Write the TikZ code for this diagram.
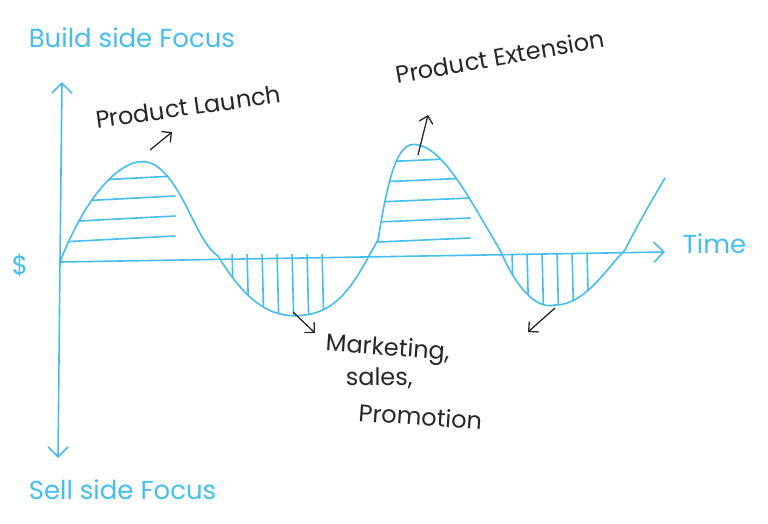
\documentclass[tikz,border=0pt]{standalone}
\usetikzlibrary{arrows.meta}
\usepackage{fontspec}
\setmainfont{Poppins}
\begin{document}
\begin{tikzpicture}[x=1pt,y=-1pt,line width=1.6pt]
\definecolor{sk}{HTML}{45BDEF}
\tikzset{cy/.style={draw=sk, line cap=round}, ct/.style={text=sk,font=\fontsize{26}{28}\selectfont,inner sep=0},
  bt/.style={text=black!85, font=\fontsize{24}{26}\selectfont, inner sep=0}}
\useasboundingbox (0,0) rectangle (768,523);
\coordinate (ytop) at (62,82); \coordinate (ybot) at (58,458);
\coordinate (o) at (60,262); \coordinate (xend) at (665,252);
\draw[cy,-{Straight Barb[length=10pt]}] (o) -- (ytop);
\draw[cy,-{Straight Barb[length=10pt]}] (o) -- (ybot);
\draw[cy,-{Straight Barb[length=10pt]}] (o) -- (xend);
\def\wave{(60,262) .. controls (90,185) and (130,150) .. (155,165) .. controls (185,185) and (195,240) .. (218,256) .. controls (245,300) and (270,320) .. (305,315) .. controls (345,310) and (360,270) .. (378,240) .. controls (390,165) and (400,140) .. (418,145) .. controls (445,150) and (470,200) .. (500,250) .. controls (515,285) and (535,310) .. (555,305) .. controls (585,305) and (605,270) .. (625,250) .. controls (640,220) and (655,195) .. (665,178)}
\draw[cy] \wave;
\begin{scope}
\clip (60,100) rectangle (665,256);
\clip \wave -- (665,340) -- (60,340) -- cycle;
\foreach \y in {182,202,222,242} \draw[cy] (60,\y) -- (175,\y-6);
\foreach \y in {162,182,202,222,242} \draw[cy] (378,\y) -- (470,\y-4);
\end{scope}
\begin{scope}
\clip (60,254) rectangle (665,340);
\clip \wave -- (665,150) -- (60,150) -- cycle;
\foreach \x in {232,247,...,335} \draw[cy] (\x,250) -- (\x+2,330);
\foreach \x in {512,527,...,600} \draw[cy] (\x,250) -- (\x+2,330);
\end{scope}
\node[ct,anchor=west] (t1) at (28,38) {Build side Focus};
\node[ct,anchor=west] (t2) at (28,490) {Sell side Focus};
\node[ct] (t3) at (20,265) {\$};
\node[ct,anchor=west] (t4) at (682,244) {Time};
\node[bt,rotate=8,anchor=west] (l1) at (95,120) {Product Launch};
\node[bt,rotate=10,anchor=west] (l2) at (395,75) {Product Extension};
\node[bt,rotate=-4,anchor=west] (m1) at (325,345) {Marketing,};
\node[bt,anchor=west] (m2) at (345,378) {sales,};
\node[bt,rotate=-4,anchor=west] (m3) at (358,412) {Promotion};
\draw[black!85,line width=1.3pt,-{Straight Barb[length=7pt]}] (150,150) -- (172,132);
\draw[black!85,line width=1.3pt,-{Straight Barb[length=7pt]}] (418,155) -- (428,115);
\draw[black!85,line width=1.3pt,-{Straight Barb[length=7pt]}] (293,312) -- (315,333);
\draw[black!85,line width=1.3pt,-{Straight Barb[length=7pt]}] (555,308) -- (528,332);
\end{tikzpicture}
\end{document}
